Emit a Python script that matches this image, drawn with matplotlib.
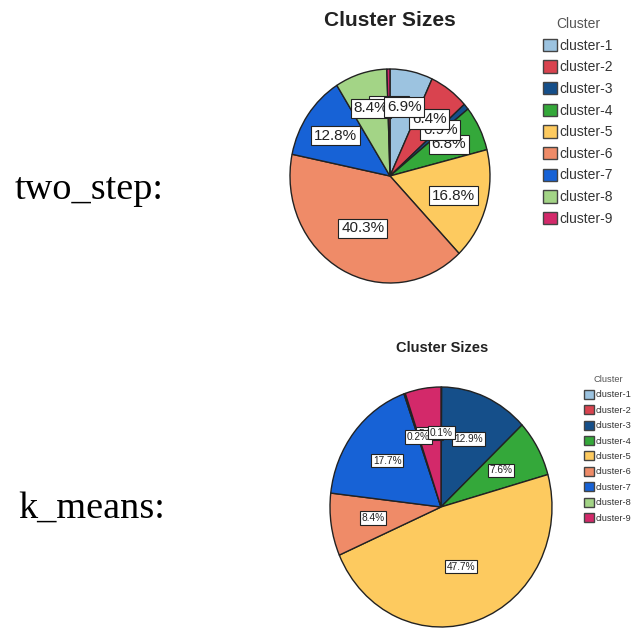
import numpy as np
import matplotlib.pyplot as plt
from matplotlib.patches import Patch

clusters = ['cluster-1', 'cluster-2', 'cluster-3', 'cluster-4', 'cluster-5',
            'cluster-6', 'cluster-7', 'cluster-8', 'cluster-9']
# cluster share in percent, 0 = empty cluster (no slice)
two_step_pct = [6.9, 6.4, 0.9, 6.8, 16.8, 40.3, 12.8, 8.4, 0.5]
k_means_pct = [0.1, 0.0, 12.9, 7.6, 47.7, 8.4, 17.7, 0.2, 5.2]

colors = ['#9cc3e0', '#d9434f', '#154f8a', '#34a83a', '#fdca5f',
          '#ef8b68', '#1762d6', '#a3d486', '#d3296a']

W, H = 640, 628
fig = plt.figure(figsize=(W / 100, H / 100), dpi=100)
fig.patch.set_facecolor('white')


def px_axes(cx, cy, rx, ry):
    return fig.add_axes([(cx - rx) / W, 1 - (cy + ry) / H, 2 * rx / W, 2 * ry / H])


def draw_pie(ax, values, fontsize, dist, lw):
    idx = [i for i, v in enumerate(values) if v > 0]
    wedges, _ = ax.pie([values[i] for i in idx], colors=[colors[i] for i in idx],
                       startangle=90, counterclock=False,
                       wedgeprops=dict(edgecolor='#222222', linewidth=lw))
    ax.set_aspect('auto')
    ax.set_xlim(-1, 1)
    ax.set_ylim(-1, 1)
    for w, i in zip(wedges, idx):
        ang = np.deg2rad((w.theta1 + w.theta2) / 2)
        r = dist * (0.85 if values[i] > 35 else 1.0)  # big slices: label closer in
        ax.text(r * np.cos(ang), r * np.sin(ang), f'{values[i]:.1f}%',
                ha='center', va='center', fontsize=fontsize, color='#222222',
                family='Liberation Sans', zorder=20 - i,
                bbox=dict(boxstyle='square,pad=0.18', fc='white', ec='#222222', lw=0.8))


def draw_legend(x, y, fontsize, spacing, hlen):
    handles = [Patch(facecolor=c, edgecolor='#444444', label=l) for c, l in zip(colors, clusters)]
    leg = fig.legend(handles=handles, title='Cluster', loc='upper left',
                     bbox_to_anchor=(x / W, 1 - y / H), frameon=False,
                     prop={'family': 'Liberation Sans', 'size': fontsize},
                     title_fontproperties={'family': 'Liberation Sans', 'size': fontsize},
                     labelspacing=spacing, handlelength=hlen, handleheight=hlen,
                     handletextpad=0.2, borderpad=0, borderaxespad=0)
    leg.get_title().set_color('#555555')
    for t in leg.get_texts():
        t.set_color('#333333')


# two_step
ax1 = px_axes(390, 176, 100, 107)
draw_pie(ax1, two_step_pct, 11, 0.66, 1.0)
fig.text(390 / W, 1 - 20 / H, 'Cluster Sizes', ha='center', va='center',
         fontsize=15, fontweight='bold', family='Liberation Sans', color='#222222')
draw_legend(543, 17, 10, 0.55, 1.0)

# k_means
ax2 = px_axes(441, 507, 111, 120)
draw_pie(ax2, k_means_pct, 7.3, 0.62, 1.0)
fig.text(442 / W, 1 - 348 / H, 'Cluster Sizes', ha='center', va='center',
         fontsize=10.5, fontweight='bold', family='Liberation Sans', color='#222222')
draw_legend(584, 375, 6.7, 0.62, 1.1)

fig.text(15 / W, 1 - 190 / H, 'two_step:', ha='left', va='center',
         fontsize=27.5, family='Liberation Serif', color='black')
fig.text(18 / W, 1 - 508 / H, 'k_means:', ha='left', va='center',
         fontsize=27.5, family='Liberation Serif', color='black')

fig.savefig('out.png', dpi=100, facecolor='white')
